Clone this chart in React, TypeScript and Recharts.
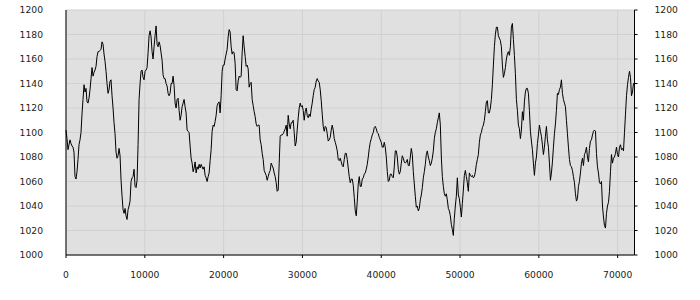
import { CartesianGrid, Line, LineChart, XAxis, YAxis } from "recharts";

// one sample every 127 time units
const STEP = 127;

const values = [
  1102, 1095, 1086, 1090, 1094, 1091, 1089, 1088, 1084, 1064, 1062, 1068, 1078, 1090, 1094, 1100, 1115, 1127, 1139, 1133,
  1136, 1125, 1124, 1128, 1135, 1144, 1153, 1146, 1149, 1151, 1154, 1162, 1166, 1166, 1167, 1168, 1174, 1172, 1164, 1158,
  1150, 1140, 1132, 1135, 1142, 1143, 1130, 1120, 1108, 1099, 1084, 1079, 1081, 1087, 1081, 1061, 1048, 1037, 1034, 1038,
  1032, 1029, 1037, 1040, 1044, 1060, 1063, 1064, 1070, 1056, 1055, 1061, 1090, 1127, 1140, 1150, 1151, 1145, 1143, 1150,
  1151, 1153, 1165, 1179, 1183, 1178, 1166, 1160, 1170, 1179, 1187, 1172, 1170, 1174, 1171, 1165, 1159, 1147, 1144, 1144,
  1140, 1138, 1132, 1130, 1132, 1140, 1140, 1146, 1138, 1124, 1120, 1127, 1128, 1118, 1110, 1114, 1121, 1124, 1127, 1121,
  1116, 1102, 1101, 1100, 1089, 1079, 1075, 1068, 1071, 1076, 1067, 1072, 1070, 1074, 1071, 1074, 1072, 1070, 1072, 1065,
  1063, 1060, 1064, 1067, 1077, 1086, 1101, 1106, 1105, 1109, 1114, 1122, 1124, 1125, 1116, 1130, 1150, 1155, 1155, 1160,
  1164, 1168, 1178, 1184, 1182, 1170, 1164, 1166, 1165, 1156, 1135, 1134, 1142, 1146,
  1145, 1146, 1165, 1179, 1170, 1162, 1154, 1155, 1152, 1137, 1140, 1141, 1127, 1122, 1117, 1113, 1107, 1105, 1106, 1106,
  1094, 1090, 1083, 1078, 1069, 1067, 1065, 1061, 1064, 1067, 1069, 1075, 1073, 1071, 1067, 1064, 1059, 1052, 1053, 1075,
  1097, 1098, 1098, 1099, 1101, 1103, 1106, 1097, 1114, 1107,
  1103, 1108, 1108, 1110, 1100, 1089, 1092, 1102, 1112, 1120, 1124, 1121, 1122, 1118, 1110, 1117, 1120, 1114, 1112, 1115,
  1113, 1119, 1124, 1130, 1135, 1137, 1142, 1144, 1142, 1141, 1135, 1126, 1115, 1105, 1101, 1105, 1104, 1099, 1093, 1094,
  1096, 1102, 1106, 1102, 1095, 1092, 1089, 1085, 1078, 1077, 1079, 1076, 1073, 1072, 1078, 1083, 1083, 1078, 1071, 1064,
  1059, 1062, 1062, 1057, 1047, 1036, 1032, 1044, 1058, 1064, 1056, 1056, 1062, 1063, 1066, 1067, 1070, 1074, 1080, 1087,
  1092, 1095, 1098, 1100, 1104, 1105, 1103, 1100, 1099, 1096, 1094, 1092, 1088, 1088, 1092, 1088, 1080, 1068, 1060, 1061,
  1066, 1066, 1064, 1063, 1072, 1085, 1085, 1080, 1070,
  1066, 1068, 1075, 1081, 1079, 1076, 1075, 1076, 1078, 1073, 1073, 1080, 1087, 1082, 1068, 1058, 1048, 1039, 1040, 1036,
  1038, 1045, 1049, 1055, 1063, 1068, 1074, 1082, 1085, 1080, 1077, 1073, 1075, 1079, 1085, 1095, 1100, 1103, 1108, 1112,
  1116, 1106, 1080, 1064, 1056, 1050, 1048, 1050, 1045, 1038, 1036, 1032, 1025, 1021, 1016, 1030, 1040, 1048, 1063, 1049,
  1046, 1039, 1031, 1042, 1053, 1065, 1069, 1064, 1059, 1052, 1067, 1065, 1064, 1065, 1063, 1064, 1068, 1074, 1078, 1082,
  1092, 1098, 1100, 1104, 1106, 1110, 1117, 1125, 1126, 1116, 1116, 1120, 1127, 1139, 1155, 1170, 1180, 1186, 1186, 1179,
  1177, 1175, 1170, 1155, 1145, 1148, 1153, 1160, 1164, 1166, 1163,
  1170, 1186, 1189, 1176, 1163, 1148, 1127, 1118, 1106, 1103, 1095, 1102, 1117, 1110, 1125, 1133, 1136, 1136, 1132, 1118,
  1101, 1093, 1086, 1075, 1065, 1075, 1080, 1091, 1098, 1106, 1101, 1097, 1090, 1082, 1088, 1097, 1105, 1094, 1088, 1075,
  1061, 1067, 1076, 1088, 1099, 1107, 1118, 1132, 1131, 1135, 1137, 1143, 1132, 1127, 1124, 1121, 1110, 1099, 1088, 1078,
  1073, 1072, 1069, 1064, 1059, 1050, 1044, 1046, 1056, 1060, 1067, 1075, 1079, 1073, 1082, 1084, 1088, 1080, 1076, 1087,
  1093, 1094, 1098, 1101, 1102, 1101, 1083, 1072, 1067, 1059, 1058, 1060, 1040, 1031, 1024, 1022, 1034, 1040, 1043, 1052,
  1068, 1082, 1075, 1079, 1080, 1083, 1088, 1082, 1080, 1088, 1090, 1086, 1087, 1085, 1100, 1115, 1130, 1139, 1145, 1150,
  1145, 1130, 1133, 1140, 1140,
];

const xTicks = [0, 10000, 20000, 30000, 40000, 50000, 60000, 70000];
const yTicks = [1000, 1020, 1040, 1060, 1080, 1100, 1120, 1140, 1160, 1180, 1200];

const data = values.map((v, i) => ({ t: i * STEP, v }));

const tickStyle = { fontFamily: "DejaVu Sans", fontSize: 9.2, fill: "#222" };

export default function App() {
  return (
    <div style={{ position: "absolute", left: 0, top: 0, background: "#fff" }}>
      <LineChart width={700} height={300} data={data} margin={{ top: 10, right: 0, bottom: 0, left: 0 }}>
        <CartesianGrid stroke="#d0d0d0" fill="#e0e0e0" fillOpacity={1} />
        <XAxis
          dataKey="t"
          type="number"
          domain={[0, "dataMax"]}
          ticks={xTicks}
          height={45}
          tickSize={3}
          tickMargin={13}
          stroke="#000"
          tick={tickStyle}
          interval={0}
        />
        <XAxis
          xAxisId="top"
          orientation="top"
          dataKey="t"
          type="number"
          domain={[0, "dataMax"]}
          height={0}
          tick={false}
          tickLine={false}
          stroke="#000"
        />
        <YAxis
          domain={[1000, 1200]}
          ticks={yTicks}
          width={66}
          tickSize={0}
          tickMargin={23}
          stroke="#000"
          tick={tickStyle}
          interval={0}
        />
        <YAxis
          yAxisId="right"
          orientation="right"
          domain={[1000, 1200]}
          ticks={yTicks}
          width={65.5}
          tickSize={3}
          tickMargin={17}
          stroke="#000"
          tick={{ ...tickStyle, textAnchor: "start" }}
          interval={0}
        />
        <Line dataKey="v" type="linear" stroke="#000" strokeWidth={1} dot={false} isAnimationActive={false} />
        {/* invisible copy so the top and right axes get drawn */}
        <Line
          xAxisId="top"
          yAxisId="right"
          dataKey="v"
          type="linear"
          stroke="none"
          dot={false}
          activeDot={false}
          isAnimationActive={false}
        />
      </LineChart>
    </div>
  );
}
